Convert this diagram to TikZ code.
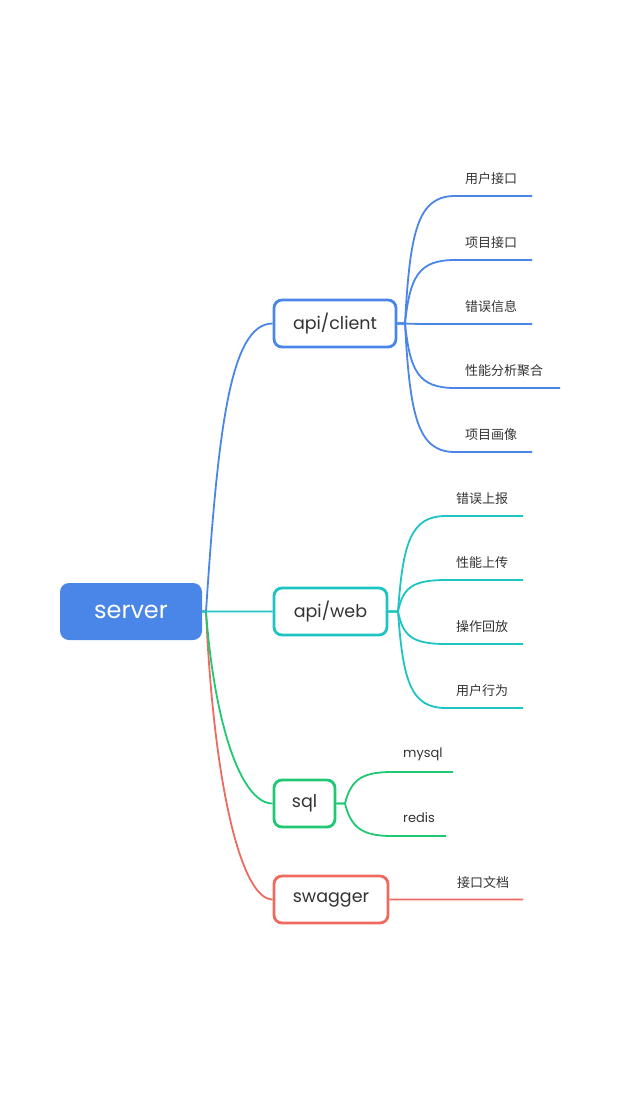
\documentclass[tikz,border=0pt]{standalone}
\usepackage{fontspec}
\setmainfont{Poppins}
\newfontfamily\cjk{Noto Sans CJK SC}
\definecolor{cblue}{HTML}{4A86E8}
\definecolor{cteal}{HTML}{1EC4C4}
\definecolor{cgreen}{HTML}{1FC871}
\definecolor{cred}{HTML}{EE6A5F}
\definecolor{ctext}{HTML}{333333}
\begin{document}
\begin{tikzpicture}[x=1pt,y=-1pt,
  topbox/.style={rectangle, rounded corners=9pt, fill=cblue, text=white, minimum width=142pt, minimum height=57pt, inner sep=0pt, font=\fontsize{24}{28}\selectfont},
  midbox/.style={rectangle, rounded corners=8pt, draw=#1, line width=2.8pt, fill=white, text=ctext, minimum height=47pt, inner sep=0pt, font=\fontsize{17.5}{20}\selectfont},
  leaf/.style={anchor=west, inner sep=0pt, text=ctext, font=\cjk\fontsize{13}{15}\selectfont},
  leafl/.style={anchor=west, inner sep=0pt, text=ctext, font=\fontsize{13}{15}\selectfont},
  conn/.style={draw=#1, line width=1.8pt}
]
\useasboundingbox (0,0) rectangle (622,1104);

% main nodes
\node[topbox] (server) at (131,611.5) {server};
\node[midbox=cblue, minimum width=122pt] (client) at (335,323.5) {api/client};
\node[midbox=cteal, minimum width=113pt] (web) at (330.5,611.5) {api/web};
\node[midbox=cgreen, minimum width=61pt] (sql) at (304.5,803.5) {sql};
\node[midbox=cred, minimum width=114pt] (swagger) at (331,899.5) {swagger};

% server connectors
\coordinate (s0) at (206,611.5);
\draw[conn=cred] (server.east) -- (s0) .. controls (214,790) and (242,899.5) .. (swagger.west);
\draw[conn=cgreen] (server.east) -- (s0) .. controls (214,720) and (240,803.5) .. (sql.west);
\draw[conn=cblue] (server.east) -- (s0) .. controls (218,430) and (230,323.5) .. (client.west);
\draw[conn=cteal] (server.east) .. controls +(20,0.01) and +(-20,-0.01) .. (web.west);

% api/client leaves
\coordinate (cf) at (405,323.5);
\foreach \y/\e/\t [count=\i] in {196/532/用户接口, 260/532/项目接口, 324/532/错误信息, 388/560/性能分析聚合, 452/532/项目画像}{
  \coordinate (cs\i) at (455,\y);
  \coordinate (ce\i) at (\e,\y);
  \node[leaf] (cl\i) at (465,\y-17) {\t};
  \pgfmathsetmacro{\dy}{0.73*(\y-323.5)}
  \draw[conn=cblue] (client.east) -- (cf) .. controls +(5,\dy) and +(-37,0) .. (cs\i) -- (ce\i);
}

% api/web leaves
\coordinate (wf) at (398,611.5);
\foreach \y/\t [count=\i] in {516/错误上报, 580/性能上传, 644/操作回放, 708/用户行为}{
  \coordinate (ws\i) at (446,\y);
  \coordinate (we\i) at (523,\y);
  \node[leaf] (wl\i) at (456,\y-17) {\t};
  \pgfmathsetmacro{\dy}{0.73*(\y-611.5)}
  \draw[conn=cteal] (web.east) -- (wf) .. controls +(5,\dy) and +(-35,0) .. (ws\i) -- (we\i);
}

% sql leaves
\coordinate (qf) at (345,803.5);
\coordinate (qs1) at (392,772);
\coordinate (qe1) at (453,772);
\coordinate (qs2) at (392,836);
\coordinate (qe2) at (446,836);
\node[leafl] (ql1) at (403,754) {mysql};
\node[leafl] (ql2) at (403,818) {redis};
\draw[conn=cgreen] (sql.east) -- (qf) .. controls +(6,-24) and +(-30,0) .. (qs1) -- (qe1);
\draw[conn=cgreen] (sql.east) -- (qf) .. controls +(6,24) and +(-30,0) .. (qs2) -- (qe2);

% swagger leaf
\coordinate (swe) at (523,899.5);
\node[leaf] (sl1) at (457,883) {接口文档};
\draw[conn=cred] (swagger.east) .. controls +(40,0.01) and +(-40,-0.01) .. (swe);
\end{tikzpicture}
\end{document}
